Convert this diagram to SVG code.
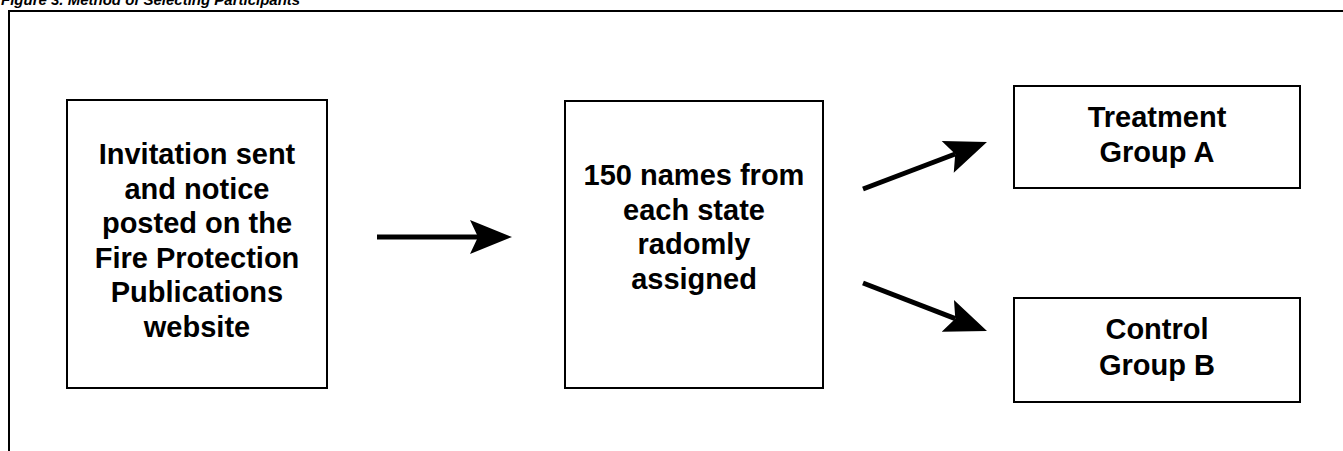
<svg xmlns="http://www.w3.org/2000/svg" width="1343" height="451" viewBox="0 0 1343 451">
<style>
  .box { fill: #ffffff; stroke: #000000; stroke-width: 2; }
  .lbl { font-family: "Liberation Sans", Arial, Helvetica, sans-serif; font-weight: bold; font-size: 29px; fill: #000000; text-anchor: middle; }
  .title { font-family: "Liberation Sans", Arial, Helvetica, sans-serif; font-weight: bold; font-style: italic; font-size: 15px; fill: #000000; }
  .conn { stroke: #000000; stroke-width: 5; fill: none; marker-end: url(#arrow); }
</style>
<defs>
  <marker id="arrow" markerUnits="userSpaceOnUse" markerWidth="44" markerHeight="36" viewBox="0 -18 44 36" refX="8" refY="0" orient="auto" overflow="visible">
    <path d="M42,0 L0,-17 L8,0 L0,17 Z" fill="#000000"/>
  </marker>
</defs>
<rect width="1343" height="451" fill="#ffffff"/>
<text class="title" x="1" y="5">Figure 3. Method of Selecting Participants</text>
<rect x="9" y="11" width="1400" height="500" fill="none" stroke="#000000" stroke-width="2"/>
<g id="node-invitation">
  <rect class="box" x="67" y="100" width="260" height="288"/>
  <text class="lbl" x="197" y="164">Invitation sent</text>
  <text class="lbl" x="197" y="199">and notice</text>
  <text class="lbl" x="197" y="233">posted on the</text>
  <text class="lbl" x="197" y="268">Fire Protection</text>
  <text class="lbl" x="197" y="302">Publications</text>
  <text class="lbl" x="197" y="337">website</text>
</g>
<g id="node-names">
  <rect class="box" x="565" y="101" width="258" height="287"/>
  <text class="lbl" x="694" y="185">150 names from</text>
  <text class="lbl" x="694" y="220">each state</text>
  <text class="lbl" x="694" y="254">radomly</text>
  <text class="lbl" x="694" y="289">assigned</text>
</g>
<g id="node-treatment">
  <rect class="box" x="1014" y="86" width="286" height="102"/>
  <text class="lbl" x="1157" y="127">Treatment</text>
  <text class="lbl" x="1157" y="162">Group A</text>
</g>
<g id="node-control">
  <rect class="box" x="1014" y="298" width="286" height="104"/>
  <text class="lbl" x="1157" y="339">Control</text>
  <text class="lbl" x="1157" y="375">Group B</text>
</g>
<g id="connectors">
  <line class="conn" x1="377" y1="237" x2="478" y2="237"/>
  <line class="conn" x1="863" y1="189" x2="955.2" y2="154"/>
  <line class="conn" x1="863" y1="283" x2="955.3" y2="318.7"/>
</g>
</svg>
